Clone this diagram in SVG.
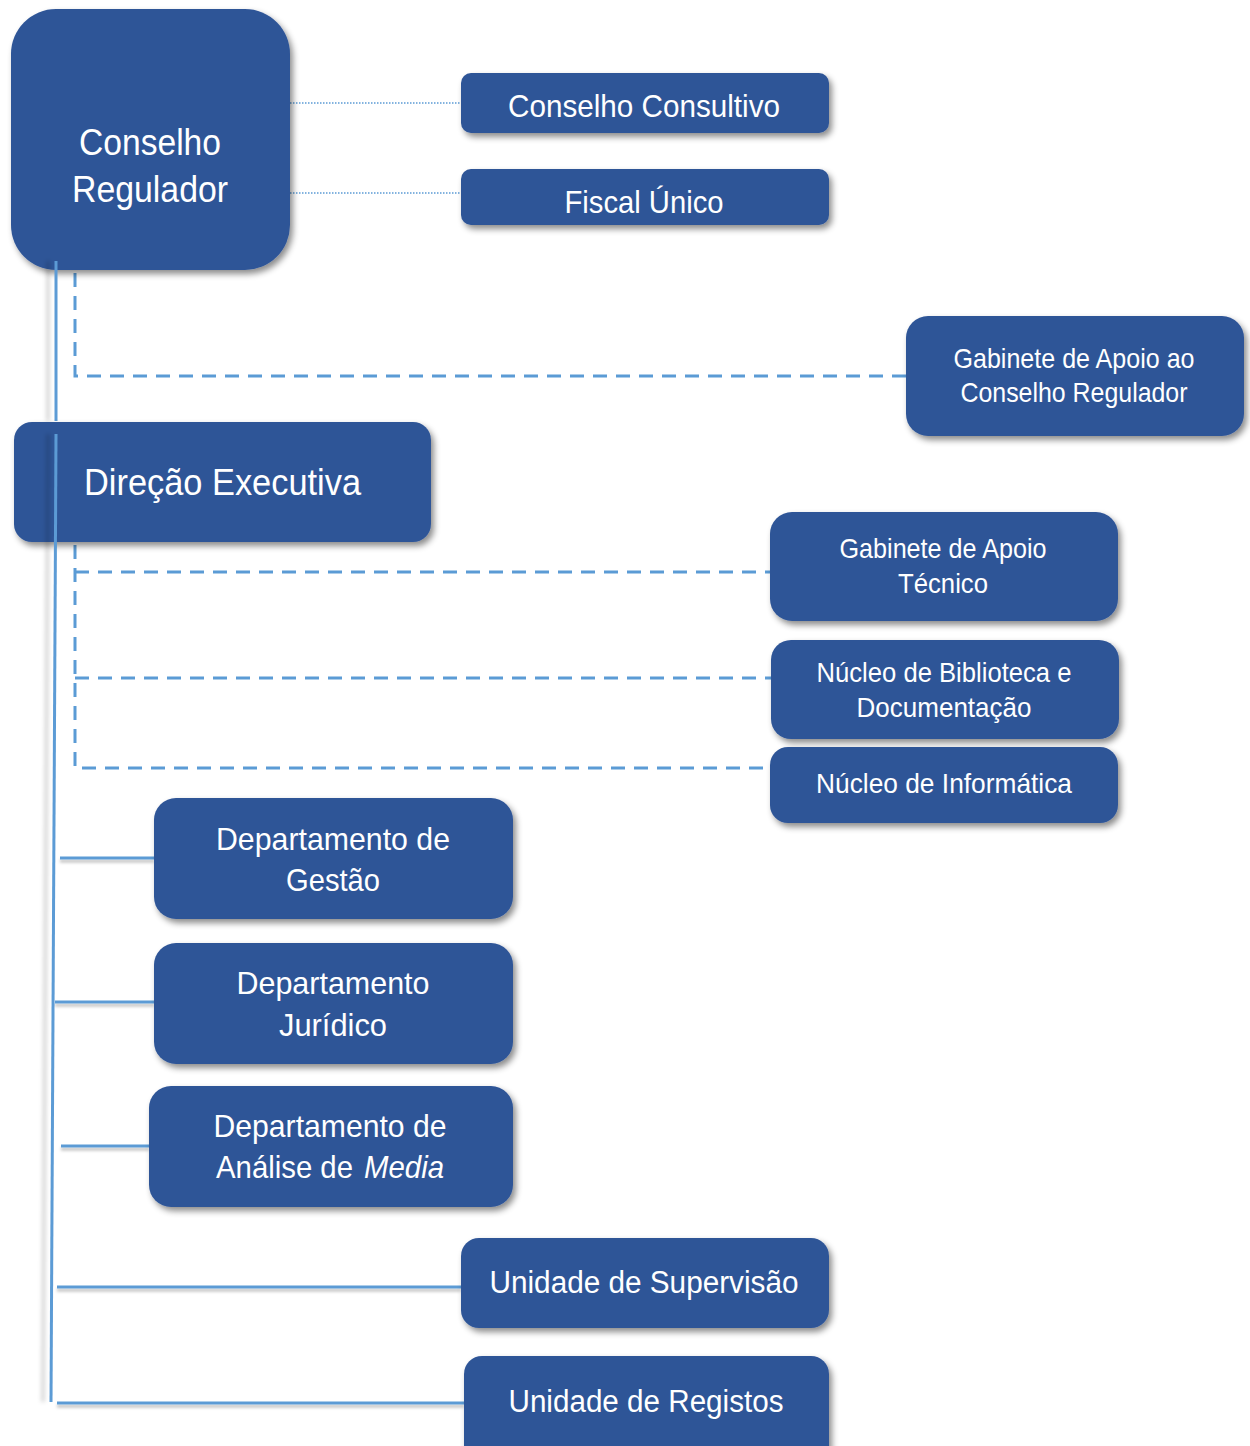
<svg xmlns="http://www.w3.org/2000/svg" width="1250" height="1446" viewBox="0 0 1250 1446">
<defs>
<filter id="sh" x="-10%" y="-10%" width="125%" height="130%">
<feDropShadow dx="3" dy="4" stdDeviation="3" flood-color="#000" flood-opacity="0.45"/>
</filter>
<filter id="lsh" filterUnits="userSpaceOnUse" x="0" y="0" width="1250" height="1446">
<feDropShadow dx="0" dy="3" stdDeviation="1.5" flood-color="#000" flood-opacity="0.25"/>
</filter>
<filter id="vsh" filterUnits="userSpaceOnUse" x="0" y="0" width="1250" height="1446">
<feDropShadow dx="-8" dy="0" stdDeviation="2" flood-color="#000" flood-opacity="0.2"/>
</filter>
</defs>
<style>
.box{fill:#2f5597;filter:url(#sh)}
text{font-family:"Liberation Sans",Arial,sans-serif;fill:#ffffff}
.solid{stroke:#5b9bd5;stroke-width:3;fill:none}
.dash{stroke:#5b9bd5;stroke-width:3;fill:none;stroke-dasharray:14 9}
.dot{stroke:#5b9bd5;stroke-width:1.5;fill:none;stroke-dasharray:1.5 1.5}
</style>
<rect width="1250" height="1446" fill="#ffffff"/>

<g id="connectors">
<line class="dot" x1="290" y1="103" x2="461" y2="103"/>
<line class="dot" x1="290" y1="193" x2="461" y2="193"/>
<polyline class="dash" points="75,273 75,376 906,376"/>
<polyline class="dash" points="75,545 75,768 770,768"/>
<line class="dash" x1="75" y1="572" x2="770" y2="572"/>
<line class="dash" x1="75" y1="678" x2="771" y2="678"/>
<g filter="url(#lsh)">
<line class="solid" x1="60" y1="858" x2="154" y2="858"/>
<line class="solid" x1="55" y1="1002" x2="154" y2="1002"/>
<line class="solid" x1="61" y1="1146" x2="149" y2="1146"/>
<line class="solid" x1="57" y1="1287" x2="461" y2="1287"/>
<line class="solid" x1="57" y1="1403" x2="464" y2="1403"/>
</g>
</g>

<g id="conselho-regulador">
<rect class="box" x="11" y="9" width="279" height="261" rx="45"/>
<text x="150" y="155" font-size="37" text-anchor="middle" textLength="142" lengthAdjust="spacingAndGlyphs">Conselho</text>
<text x="150" y="202" font-size="37" text-anchor="middle" textLength="156" lengthAdjust="spacingAndGlyphs">Regulador</text>
</g>

<g id="conselho-consultivo">
<rect class="box" x="461" y="73" width="368" height="60" rx="10"/>
<text x="644" y="117" font-size="32" text-anchor="middle" textLength="272" lengthAdjust="spacingAndGlyphs">Conselho Consultivo</text>
</g>

<g id="fiscal-unico">
<rect class="box" x="461" y="169" width="368" height="56" rx="10"/>
<text x="644" y="213" font-size="32" text-anchor="middle" textLength="159" lengthAdjust="spacingAndGlyphs">Fiscal Único</text>
</g>

<g id="gabinete-apoio-cr">
<rect class="box" x="906" y="316" width="338" height="120" rx="22"/>
<text x="1074" y="368" font-size="28" text-anchor="middle" textLength="241" lengthAdjust="spacingAndGlyphs">Gabinete de Apoio ao</text>
<text x="1074" y="402" font-size="28" text-anchor="middle" textLength="227" lengthAdjust="spacingAndGlyphs">Conselho Regulador</text>
</g>

<g id="tronco-topo">
<line class="solid" x1="56" y1="261" x2="56" y2="421" filter="url(#vsh)"/>
</g>

<g id="direcao-executiva">
<rect class="box" x="14" y="422" width="417" height="120" rx="18"/>
<text x="84" y="495" font-size="37" textLength="277" lengthAdjust="spacingAndGlyphs">Direção Executiva</text>
</g>

<g id="tronco">
<line class="solid" x1="56" y1="434" x2="51" y2="1402" filter="url(#vsh)"/>
</g>

<g id="gabinete-apoio-tecnico">
<rect class="box" x="770" y="512" width="348" height="109" rx="22"/>
<text x="943" y="558" font-size="28" text-anchor="middle" textLength="207" lengthAdjust="spacingAndGlyphs">Gabinete de Apoio</text>
<text x="943" y="593" font-size="28" text-anchor="middle" textLength="90" lengthAdjust="spacingAndGlyphs">Técnico</text>
</g>

<g id="nucleo-biblioteca">
<rect class="box" x="771" y="640" width="348" height="99" rx="20"/>
<text x="944" y="682" font-size="28" text-anchor="middle" textLength="255" lengthAdjust="spacingAndGlyphs">Núcleo de Biblioteca e</text>
<text x="944" y="717" font-size="28" text-anchor="middle" textLength="175" lengthAdjust="spacingAndGlyphs">Documentação</text>
</g>

<g id="nucleo-informatica">
<rect class="box" x="770" y="747" width="348" height="76" rx="18"/>
<text x="944" y="793" font-size="28" text-anchor="middle" textLength="256" lengthAdjust="spacingAndGlyphs">Núcleo de Informática</text>
</g>

<g id="departamento-gestao">
<rect class="box" x="154" y="798" width="359" height="121" rx="22"/>
<text x="333" y="850" font-size="32" text-anchor="middle" textLength="234" lengthAdjust="spacingAndGlyphs">Departamento de</text>
<text x="333" y="891" font-size="32" text-anchor="middle" textLength="94" lengthAdjust="spacingAndGlyphs">Gestão</text>
</g>

<g id="departamento-juridico">
<rect class="box" x="154" y="943" width="359" height="121" rx="22"/>
<text x="333" y="994" font-size="32" text-anchor="middle" textLength="193" lengthAdjust="spacingAndGlyphs">Departamento</text>
<text x="333" y="1036" font-size="32" text-anchor="middle" textLength="108" lengthAdjust="spacingAndGlyphs">Jurídico</text>
</g>

<g id="departamento-analise-media">
<rect class="box" x="149" y="1086" width="364" height="121" rx="22"/>
<text x="330" y="1137" font-size="32" text-anchor="middle" textLength="233" lengthAdjust="spacingAndGlyphs">Departamento de</text>
<text x="216" y="1178" font-size="32" textLength="137" lengthAdjust="spacingAndGlyphs">Análise de</text>
<text x="364" y="1178" font-size="32" font-style="italic" textLength="80" lengthAdjust="spacingAndGlyphs">Media</text>
</g>

<g id="unidade-supervisao">
<rect class="box" x="461" y="1238" width="368" height="90" rx="18"/>
<text x="644" y="1293" font-size="31" text-anchor="middle" textLength="309" lengthAdjust="spacingAndGlyphs">Unidade de Supervisão</text>
</g>

<g id="unidade-registos">
<rect class="box" x="464" y="1356" width="365" height="110" rx="18"/>
<text x="646" y="1412" font-size="31" text-anchor="middle" textLength="275" lengthAdjust="spacingAndGlyphs">Unidade de Registos</text>
</g>
</svg>
